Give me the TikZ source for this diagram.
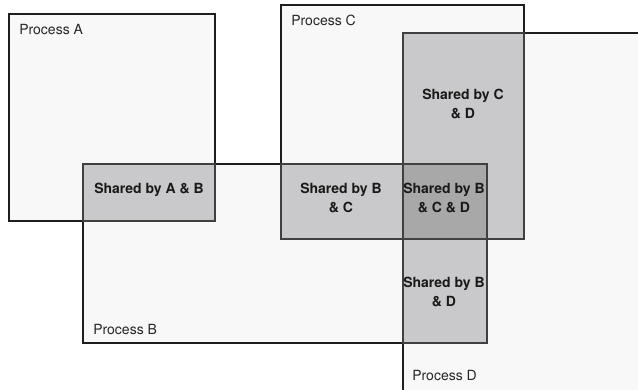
\documentclass[tikz,border=0pt]{standalone}
\usepackage{fontspec}
\setmainfont{TeX Gyre Heros}
\usepackage{tikz}
\definecolor{procfill}{RGB}{248,248,248}
\definecolor{sharedfill}{RGB}{201,201,203}
\definecolor{triplefill}{RGB}{168,168,168}
\definecolor{edge}{RGB}{30,30,30}
\tikzset{
  procbox/.style={draw=edge, fill=procfill, line width=0.9pt},
  sharedbox/.style={draw=edge!85, fill=sharedfill, line width=0.9pt},
  triplebox/.style={sharedbox, fill=triplefill},
  proclabel/.style={anchor=base west, inner sep=0pt, text=black!85,
    font=\fontsize{10.5}{13}\selectfont},
  sharedlabel/.style={align=center, inner sep=0pt, text=black!90,
    font=\fontsize{10.5}{14.25}\selectfont\bfseries}
}

\begin{document}
\begin{tikzpicture}[x=0.75pt, y=-0.75pt]
  \useasboundingbox (0,0) rectangle (638,389);
  \clip (0,0) rectangle (638,389);
  \fill[white] (0,0) rectangle (638,389);
  \draw[procbox] (9,14) rectangle (215,221);
  \draw[procbox] (83,164) rectangle (487,343);
  \draw[procbox] (281,5) rectangle (524,239);
  \draw[procbox] (403,33) rectangle (660,400);
  \draw[sharedbox] (83,164) rectangle (215,221);
  \draw[sharedbox] (281,164) rectangle (403,239);
  \draw[sharedbox] (403,33) rectangle (524,239);
  \draw[sharedbox] (403,239) rectangle (487,343);
  \draw[triplebox] (403,164) rectangle (487,239);
  \node[proclabel] (pa) at (19,34) {Process A};
  \node[proclabel] (pb) at (93,334) {Process B};
  \node[proclabel] (pc) at (291,25) {Process C};
  \node[proclabel] (pd) at (412,380) {Process D};
  \node[sharedlabel] (ab) at (149,189.5) {Shared by A \& B};
  \node[sharedlabel] (bc) at (341,197.5) {Shared by B\\\& C};
  \node[sharedlabel] (bcd) at (444,197.5) {Shared by B\\\& C \& D};
  \node[sharedlabel] (bd) at (444,291.5) {Shared by B\\\& D};
  \node[sharedlabel] (cd) at (463,104) {Shared by C\\\& D};
\end{tikzpicture}
\end{document}
